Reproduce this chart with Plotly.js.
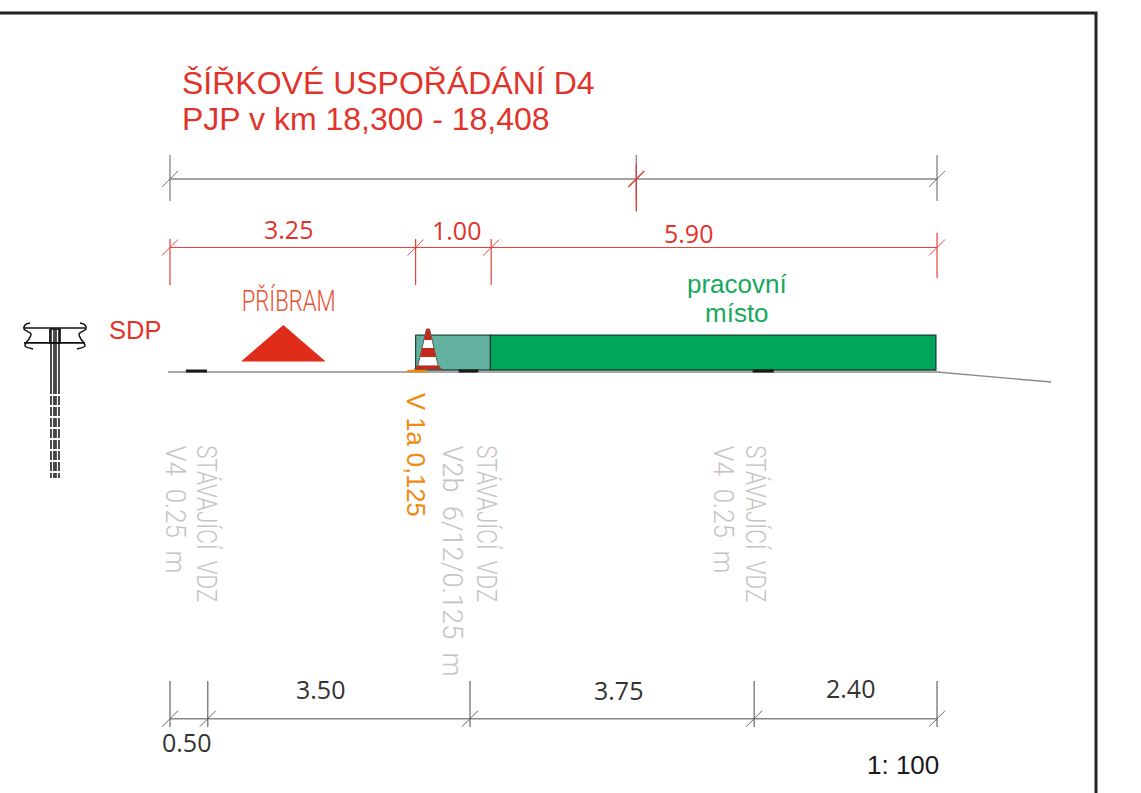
<!DOCTYPE html>
<html><head><meta charset="utf-8">
<script src="https://cdn.plot.ly/plotly-3.0.1.min.js"></script>
<style>html,body{margin:0;padding:0;background:#fff;overflow:hidden}#c{width:1141px;height:793px}</style>
</head><body><div id="c"></div>
<script>
// Cross-section widths, metres
const overallTicks = [0, 6.17, 10.15];
const redWidths = [3.25, 1.00, 5.90];
const bottomTicks = [0, 0.50, 3.97, 7.73, 10.15];
// Surfaces, metres (x across, y above road)
const groundX = [-0.026, 10.15, 11.66];
const groundY = [-0.013, -0.013, -0.146];
const workZoneX = [4.24, 10.135, 10.135, 4.24, 4.24];
const workZoneY = [0.013, 0.013, 0.476, 0.476, 0.013];
const bufferX = [3.25, 4.24, 4.24, 3.25, 3.25];
const bufferY = [0.013, 0.013, 0.476, 0.476, 0.013];
const trafficX = [0.94, 2.06, 1.50, 0.94];
const trafficY = [0.125, 0.125, 0.609, 0.125];
const markingsX = [0.21, 0.49, null, 3.82, 4.08, null, 7.71, 7.99];
const markingsY = [0.0, 0.0, null, 0.0, 0.0, null, 0.0, 0.0];
const orangeLineX = [3.14, 3.40];
const orangeLineY = [0.0, 0.0];
// Traffic cone bands (red/white)
const coneX = 3.414;
const coneBandY = [0.556, 0.410, 0.304, 0.185, 0.066];
const coneBandHalf = [0.02, 0.05, 0.077, 0.106, 0.136];
const coneBaseX = [3.235, 3.593, 3.56, 3.268, 3.235];
const coneBaseY = [0.026, 0.026, 0.066, 0.066, 0.026];
// Gantry post
const postPlateX = [-1.932, -1.125, null, -1.932, -1.125];
const postPlateY = [0.569, 0.569, null, 0.371, 0.371];
const postLeftX = [-1.853, -1.919, -1.932, -1.892, -1.839, -1.866, -1.906, -1.919, -1.813];
const postRightX = [-1.191, -1.125, -1.112, -1.151, -1.204, -1.178, -1.138, -1.125, -1.231];
const postCurlY = [0.635, 0.609, 0.556, 0.529, 0.490, 0.423, 0.371, 0.331, 0.291];
const postStemX = [-1.575, -1.535, -1.509, -1.469];
const postStemTop = 0.556, postStemMid = -0.185, postStemEnd = -1.416;
const postHeadX = [-1.588, -1.456, -1.456, -1.588, -1.588];
const postHeadY = [0.556, 0.556, 0.371, 0.371, 0.556];
// Labels
const titleLines = ['ŠÍŘKOVÉ USPOŘÁDÁNÍ D4', 'PJP v km 18,300 - 18,408'];
const redDimLabels = ['3.25', '1.00', '5.90'];
const bottomDimLabels = ['3.50', '3.75', '2.40', '0.50'];
const greyLabels = ['V4\u00a0\u00a00.25\u00a0\u00a0m', 'STÁVAJÍCÍ\u00a0\u00a0VDZ', 'V2b\u00a0\u00a06/12/0.125\u00a0\u00a0m', 'STÁVAJÍCÍ\u00a0\u00a0VDZ', 'V4\u00a0\u00a00.25\u00a0\u00a0m', 'STÁVAJÍCÍ\u00a0\u00a0VDZ'];

const W = 1141, H = 793, S = 75.57, X0 = 170, Y0 = 371;
const mx = p => (p - X0) / S, my = p => (Y0 - p) / S;
const traces = [];
function line(x, y, color, width, extra) {
  traces.push({type:'scatter', mode:'lines', x, y, hoverinfo:'skip', showlegend:false,
    line:Object.assign({color, width, simplify:false}, extra||{})});
}
function poly(x, y, fill, lineColor, lineWidth) {
  traces.push({type:'scatter', mode:'lines', x, y, fill:'toself', fillcolor:fill, hoverinfo:'skip', showlegend:false,
    line:{color:lineColor||fill, width:lineWidth||0}});
}
const SL = 8 / S;
function dim(ticks, y, top, bot, lineColor, lineW, extColor, extW) {
  line([ticks[0], ticks[ticks.length-1]], [y, y], lineColor, lineW);
  const ex=[], ey=[], tx=[], ty=[];
  ticks.forEach((t,i) => {
    const tp = Array.isArray(top) ? top[i] : top, bt = Array.isArray(bot) ? bot[i] : bot;
    ex.push(t, t, null); ey.push(tp, bt, null);
    tx.push(t-SL, t+SL, null); ty.push(y-SL, y+SL, null);
  });
  line(ex, ey, extColor, extW);
  line(tx, ty, extColor, 1);
}
const cum = a => a.reduce((o,v) => (o.push(o[o.length-1]+v), o), [0]);

// frame
line([mx(0), mx(1096), mx(1096)], [my(13), my(13), my(793)], '#222222', 3);
// dimension chains
dim(overallTicks, 2.541, 2.858, 2.250, '#a3a3a3', 2, '#777777', 1.2);
line([overallTicks[1],overallTicks[1]],[2.73,2.11],'#e2413a',1.4);
line([overallTicks[1]-SL,overallTicks[1]+SL],[2.541-SL,2.541+SL],'#e2413a',1.4);
dim(cum(redWidths), 1.634, [1.747,1.747,1.747,1.826], [1.138,1.138,1.138,1.231], '#e8403a', 1.2, '#e8403a', 1.2);
dim(bottomTicks, -4.601, -4.102, -4.711, '#888888', 1.4, '#666666', 1.2);

// surfaces
line(groundX, groundY, '#8a8a8a', 1.4);
poly(bufferX, bufferY, '#63b19f', '#1f4a40', 1.3);
poly(workZoneX, workZoneY, '#00a659', '#17402d', 1.3);
poly(trafficX, trafficY, '#e02d1b');
line(markingsX, markingsY, '#1a1a1a', 3);
line(orangeLineX, orangeLineY, '#f08a10', 2.5);

// cone
const coneOutX = [coneX-coneBandHalf[0], coneX+coneBandHalf[0], coneX+coneBandHalf[4], coneX-coneBandHalf[4], coneX-coneBandHalf[0]];
const coneOutY = [coneBandY[0], coneBandY[0], coneBandY[4], coneBandY[4], coneBandY[0]];
poly(coneOutX, coneOutY, '#ffffff', '#55605a', 1);
[0,2].forEach(i => {
  const a=coneBandHalf[i], b=coneBandHalf[i+1];
  poly([coneX-a,coneX+a,coneX+b,coneX-b,coneX-a],[coneBandY[i],coneBandY[i],coneBandY[i+1],coneBandY[i+1],coneBandY[i]],'#c3281a');
});
poly(coneBaseX, coneBaseY, '#c3281a', '#c3281a', 0.5);

// post
line(postPlateX, postPlateY, '#111111', 1.7);
line(postLeftX, postCurlY, '#111111', 1.5, {shape:'spline'});
line(postRightX, postCurlY, '#111111', 1.5, {shape:'spline'});
line(postHeadX, postHeadY, '#111111', 1.7);
postStemX.forEach(px => {
  line([px,px],[postStemTop,postStemMid],'#111111',1.5);
  line([px,px],[postStemMid,postStemEnd],'#111111',1.5,{dash:'9px,2px'});
});

// annotations
const anns = [], fitted = [];
function txt(text, px, py, size, color, family, opts, fit) {
  const o = Object.assign({}, opts||{});
  const weight = o.weight; delete o.weight;
  const font = {size, color, family};
  if (weight) font.weight = weight;
  anns.push(Object.assign({text, x:mx(px), y:my(py), xref:'x', yref:'y', showarrow:false,
    xanchor:'center', yanchor:'middle', borderpad:0, font}, o));
  fitted.push(fit || 0);
}
const ARIAL = 'Liberation Sans', OPEN = 'Open Sans', THIN = 'Roboto';
const RED = '#e2332a';
txt(titleLines[0], 181, 83, 32, RED, ARIAL, {xanchor:'left'});
txt(titleLines[1], 181, 119, 32, RED, ARIAL, {xanchor:'left'});
txt(redDimLabels[0], 288, 229, 25, RED, OPEN);
txt(redDimLabels[1], 456, 230, 25, RED, OPEN);
txt(redDimLabels[2], 688, 233, 25, RED, OPEN);
txt(bottomDimLabels[0], 320, 689, 25, '#333333', OPEN);
txt(bottomDimLabels[1], 618, 690, 25, '#333333', OPEN);
txt(bottomDimLabels[2], 850, 688, 25, '#333333', OPEN);
txt(bottomDimLabels[3], 186, 742, 25, '#333333', OPEN);
txt('1: 100', 903, 765, 26, '#1a1a1a', ARIAL);
txt('SDP', 135, 330, 25.5, RED, ARIAL);
txt('PŘÍBRAM', 288, 301, 29, '#e8502f', THIN, {weight:300}, 94);
txt('pracovní', 737, 284, 26, '#16a85c', ARIAL);
txt('místo', 737, 313, 26, '#16a85c', ARIAL);
txt('V 1a 0,125', 416.5, 454.5, 25.6, '#f08a10', ARIAL, {textangle:90});
const greyX = [175.5, 206, 452.5, 486, 723.5, 755];
const greyMid = [509, 523.5, 560.5, 523.5, 509, 523.5];
const greyLen = [128, 157, 231, 157, 128, 157];
greyLabels.forEach((t,i) => txt(t, greyX[i], greyMid[i], 28, '#c4c4c4', THIN, {textangle:90, weight:300}, greyLen[i]));

Plotly.newPlot('c', traces, {
  width:W, height:H, margin:{l:0,r:0,t:0,b:0}, autosize:false,
  paper_bgcolor:'#ffffff', plot_bgcolor:'#ffffff', showlegend:false,
  xaxis:{range:[mx(0), mx(W)], visible:false, fixedrange:true},
  yaxis:{range:[my(H), my(0)], visible:false, fixedrange:true},
  annotations:anns
}, {displayModeBar:false, staticPlot:true}).then(gd => {
  gd.querySelectorAll('.annotation-text').forEach((el,i) => {
    if (fitted[i]) { el.setAttribute('textLength', fitted[i]); el.setAttribute('lengthAdjust', 'spacingAndGlyphs'); }
  });
});
</script></body></html>
